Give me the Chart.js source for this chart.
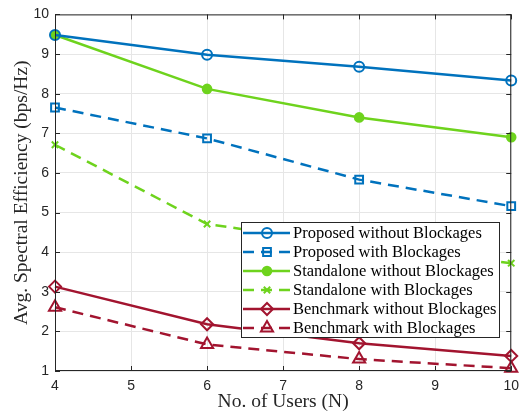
<!DOCTYPE html>
<html>
<head>
<meta charset="utf-8">
<script src="https://cdn.jsdelivr.net/npm/chart.js@4.4.1/dist/chart.umd.min.js"></script>
<style>
  html, body { margin: 0; padding: 0; background: #fff; }
  #wrap { width: 526px; height: 414px; }
</style>
</head>
<body>
<div id="wrap"><canvas id="chart" width="526" height="414"></canvas></div>
<script>
// data
const users = [4, 6, 8, 10];
const proposedNoBlock = [9.48, 8.98, 8.68, 8.33];
const proposedBlock = [7.65, 6.87, 5.83, 5.16];
const standaloneNoBlock = [9.48, 8.12, 7.40, 6.90];
const standaloneBlock = [6.71, 4.71, 4.15, 3.72];
const benchNoBlock = [3.13, 2.18, 1.70, 1.38];
const benchBlock = [2.61, 1.67, 1.30, 1.07];
const xTicks = [4, 5, 6, 7, 8, 9, 10];
const yTicks = [1, 2, 3, 4, 5, 6, 7, 8, 9, 10];

const BLUE = '#0072BD';
const GREEN = '#6ED31D';
const RED = '#A2142F';
const DASH = [11, 7];

function pts(arr) {
  return arr.map((v, i) => ({ x: users[i], y: v }));
}

function mkSet(label, values, color, dashed, style, filled, radius) {
  return {
    label,
    data: pts(values),
    borderColor: color,
    backgroundColor: filled ? color : '#ffffff',
    borderWidth: 2.5,
    borderDash: dashed ? DASH : [],
    pointStyle: style,
    pointRadius: radius,
    pointBorderWidth: 2,
    pointBorderColor: color,
    pointBackgroundColor: filled ? color : 'rgba(255,255,255,0)',
    tension: 0,
    clip: false
  };
}

const datasets = [
  mkSet('Proposed without Blockages', proposedNoBlock, BLUE, false, 'circle', false, 5),
  mkSet('Proposed with Blockages', proposedBlock, BLUE, true, 'rect', false, 5.5),
  mkSet('Standalone without Blockages', standaloneNoBlock, GREEN, false, 'circle', true, 4.3),
  mkSet('Standalone with Blockages', standaloneBlock, GREEN, true, 'crossRot', false, 4.5),
  mkSet('Benchmark without Blockages', benchNoBlock, RED, false, 'rectRot', false, 6),
  mkSet('Benchmark with Blockages', benchBlock, RED, true, 'triangle', false, 7)
];

// matlab style box, inward ticks and the legend
const boxPlugin = {
  id: 'box',
  afterDatasetsDraw(chart) {
    const { ctx, chartArea: a, scales } = chart;
    ctx.save();
    ctx.strokeStyle = '#262626';
    ctx.lineWidth = 1;
    ctx.strokeRect(a.left + 0.5, a.top + 0.5, a.right - a.left - 1, a.bottom - a.top - 1);
    ctx.beginPath();
    xTicks.forEach(t => {
      const x = Math.round(scales.x.getPixelForValue(t)) + 0.5;
      ctx.moveTo(x, a.bottom); ctx.lineTo(x, a.bottom - 5);
      ctx.moveTo(x, a.top); ctx.lineTo(x, a.top + 5);
    });
    yTicks.forEach(t => {
      const y = Math.round(scales.y.getPixelForValue(t)) + 0.5;
      ctx.moveTo(a.left, y); ctx.lineTo(a.left + 5, y);
      ctx.moveTo(a.right, y); ctx.lineTo(a.right - 5, y);
    });
    ctx.stroke();
    ctx.restore();
  },
  afterDraw(chart) {
    const ctx = chart.ctx;
    const bx = 241, by = 222, bw = 258, bh = 115, rowH = 19;
    ctx.save();
    ctx.fillStyle = '#fff';
    ctx.fillRect(bx, by, bw, bh);
    ctx.strokeStyle = '#262626';
    ctx.lineWidth = 1;
    ctx.strokeRect(bx + 0.5, by + 0.5, bw, bh);
    ctx.font = '16.5px "Liberation Serif", "Times New Roman", serif';
    ctx.textBaseline = 'middle';
    chart.data.datasets.forEach((ds, i) => {
      const y = by + 11 + i * rowH;
      ctx.strokeStyle = ds.borderColor;
      ctx.lineWidth = ds.borderWidth;
      ctx.setLineDash(ds.borderDash);
      ctx.beginPath();
      ctx.moveTo(bx + 2, y);
      ctx.lineTo(bx + 49, y);
      ctx.stroke();
      ctx.setLineDash([]);
      ctx.lineWidth = ds.pointBorderWidth;
      ctx.fillStyle = ds.pointBackgroundColor;
      Chart.helpers.drawPoint(ctx, {
        pointStyle: ds.pointStyle,
        radius: ds.pointRadius,
        rotation: 0,
        borderWidth: ds.pointBorderWidth
      }, bx + 26, y);
      ctx.fillStyle = '#000';
      ctx.fillText(ds.label, bx + 52, y + 1);
    });
    ctx.restore();
  }
};

const tickFont = { family: '"Liberation Sans", Arial, sans-serif', size: 14 };
const titleFont = { family: '"Liberation Serif", "Times New Roman", serif', size: 19.5 };

new Chart(document.getElementById('chart').getContext('2d'), {
  type: 'line',
  data: { datasets },
  options: {
    responsive: false,
    animation: false,
    layout: { padding: { top: 14, right: 13, left: 10, bottom: 0 } },
    plugins: { legend: { display: false }, tooltip: { enabled: false } },
    scales: {
      x: {
        type: 'linear',
        min: 4, max: 10,
        afterBuildTicks: s => { s.ticks = xTicks.map(v => ({ value: v })); },
        afterFit: s => { s.height = 43; },
        grid: { color: '#e6e6e6', lineWidth: 1, drawTicks: false },
        border: { display: false },
        ticks: { color: '#262626', font: tickFont, padding: 7, maxRotation: 0 },
        title: { display: true, text: 'No. of Users (N)', color: '#262626', font: titleFont, padding: { top: 0, bottom: 0 } }
      },
      y: {
        type: 'linear',
        min: 1, max: 10,
        afterBuildTicks: s => { s.ticks = yTicks.map(v => ({ value: v })); },
        afterFit: s => { s.width = 45; },
        grid: { color: '#e6e6e6', lineWidth: 1, drawTicks: false },
        border: { display: false },
        ticks: { color: '#262626', font: tickFont, padding: 6 },
        title: { display: true, text: 'Avg. Spectral Efficiency (bps/Hz)', color: '#262626', font: titleFont, padding: { top: 0, bottom: 2 } }
      }
    }
  },
  plugins: [boxPlugin]
});
</script>
</body>
</html>
